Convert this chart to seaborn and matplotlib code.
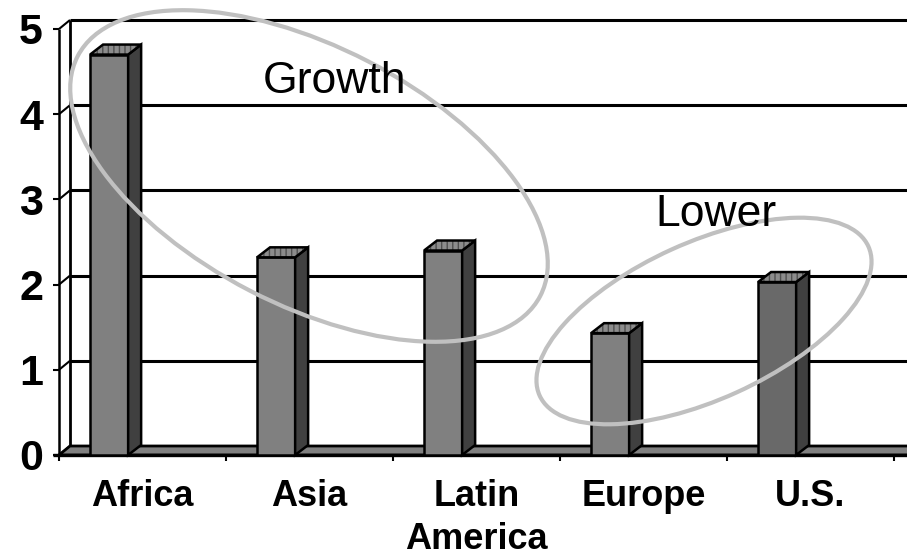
import matplotlib
matplotlib.use("Agg")
import matplotlib.pyplot as plt
import matplotlib.transforms as mtransforms
from matplotlib.patches import Polygon, Ellipse
from matplotlib.lines import Line2D
from matplotlib.ticker import FixedLocator
import seaborn as sns
import pandas as pd

# data
regions = ["Africa", "Asia", "Latin\nAmerica", "Europe", "U.S."]
values = [4.7, 2.32, 2.4, 1.43, 2.03]
y_ticks = [0, 1, 2, 3, 4, 5]
bar_colors = ["#808080", "#808080", "#808080", "#808080", "#696969"]
notes = ["Growth", "Lower"]

sns.set_theme(style="white")
plt.rcParams["font.family"] = ["Liberation Sans", "DejaVu Sans"]
plt.rcParams["text.color"] = "black"

W, H = 907, 557
fig = plt.figure(figsize=(W / 100, H / 100), dpi=100)
ax = fig.add_axes([59 / W, 102 / H, 835 / W, 426 / H])

df = pd.DataFrame({"region": regions, "value": values})
sns.barplot(data=df, x="region", y="value", hue="region", palette=bar_colors,
            saturation=1, width=0.228, legend=False, ax=ax,
            edgecolor="black", linewidth=1.8, zorder=4)

ax.set_xlim(-0.5, 4.5)
ax.set_ylim(0, 5)
ax.set_autoscale_on(False)
ax.set_xlabel("")
ax.set_ylabel("")
for s in ax.spines.values():
    s.set_visible(False)

# bars sit a bit left of the category centre (3D look)
bars = list(ax.patches)
for p in bars:
    p.set_x(p.get_x() - 0.2)

ID = mtransforms.IdentityTransform()
to_px = ax.transData.transform
wall_dx, wall_dy = 11, 9
bar_dx, bar_dy = 13, 10


def front(x, y):
    return tuple(to_px((x, y)))


def back(x, y):
    px, py = to_px((x, y))
    return (px + wall_dx, py + wall_dy)


def seg(p, q, lw=2.2, z=1):
    ax.add_line(Line2D([p[0], q[0]], [p[1], q[1]], color="black", lw=lw,
                       transform=ID, clip_on=False, zorder=z,
                       solid_capstyle="butt"))


x_left, x_right = -0.5, 4.62

# back wall grid
for v in y_ticks[1:]:
    seg(back(x_left, v), back(x_right, v), lw=2.2, z=1)
seg(back(x_left, 0), back(x_left, 5), lw=2.0, z=1)
for v in y_ticks:
    seg(front(x_left, v), back(x_left, v), lw=1.5, z=1)

# floor
floor = Polygon([front(x_left, 0), front(x_right, 0), back(x_right, 0), back(x_left, 0)],
                closed=True, facecolor="#808080", edgecolor="black", lw=2.0,
                transform=ID, clip_on=False, zorder=2)
ax.add_patch(floor)
fx0, fy0 = front(x_left, 0)
seg((fx0 - 6, fy0), front(x_right, 0), lw=2.4, z=3)
seg(front(x_left, 0), front(x_left, 5), lw=1.8, z=3)

# side and top faces of the bars
for p in bars:
    x0, y0 = p.get_x(), p.get_y()
    x1, y1 = x0 + p.get_width(), y0 + p.get_height()
    bl, br = to_px((x0, y0)), to_px((x1, y0))
    tl, tr = to_px((x0, y1)), to_px((x1, y1))
    side = Polygon([br, (br[0] + bar_dx, br[1] + bar_dy),
                    (tr[0] + bar_dx, tr[1] + bar_dy), tr],
                   closed=True, facecolor="#404040", edgecolor="black", lw=1.8,
                   transform=ID, clip_on=False, zorder=4)
    top_pts = [tl, tr, (tr[0] + bar_dx, tr[1] + bar_dy), (tl[0] + bar_dx, tl[1] + bar_dy)]
    top_fill = Polygon(top_pts, closed=True, facecolor="#8c8c8c", edgecolor="#505050",
                       hatch="|||", lw=0, transform=ID, clip_on=False, zorder=4)
    top_edge = Polygon(top_pts, closed=True, facecolor="none", edgecolor="black", lw=1.8,
                       transform=ID, clip_on=False, zorder=4)
    ax.add_patch(side)
    ax.add_patch(top_fill)
    ax.add_patch(top_edge)

# ticks and labels
ax.set_yticks(y_ticks)
ax.set_yticklabels([str(v) for v in y_ticks], fontsize=31, fontweight="bold")
ax.tick_params(axis="y", left=True, direction="out", length=4.5, width=1.5,
               pad=7, colors="black")
ax.set_xticks(range(len(regions)))
ax.set_xticklabels(regions, fontsize=26, fontweight="bold", linespacing=1.3)
ax.xaxis.set_minor_locator(FixedLocator([i - 0.5 for i in range(len(regions) + 1)]))
ax.tick_params(axis="x", which="major", bottom=True, length=0, pad=17, colors="black")
ax.tick_params(axis="x", which="minor", bottom=True, direction="out", length=4.5,
               width=1.5, color="black")

# callouts
fig.text(263 / W, 1 - 93 / H, notes[0], fontsize=32, color="black",
         ha="left", va="baseline", zorder=6)
fig.text(655 / W, 1 - 226 / H, notes[1], fontsize=32, color="black",
         ha="left", va="baseline", zorder=6)
fig.add_artist(Ellipse((309 / 100, (H - 176) / 100), 5.21, 2.58, angle=-27.4,
                       fill=False, edgecolor="#c0c0c0", lw=3.0,
                       transform=fig.dpi_scale_trans, zorder=5))
fig.add_artist(Ellipse((704 / 100, (H - 321) / 100), 3.61, 1.57, angle=24.4,
                       fill=False, edgecolor="#c0c0c0", lw=3.0,
                       transform=fig.dpi_scale_trans, zorder=5))

fig.savefig("out.png", dpi=100, facecolor="white")
